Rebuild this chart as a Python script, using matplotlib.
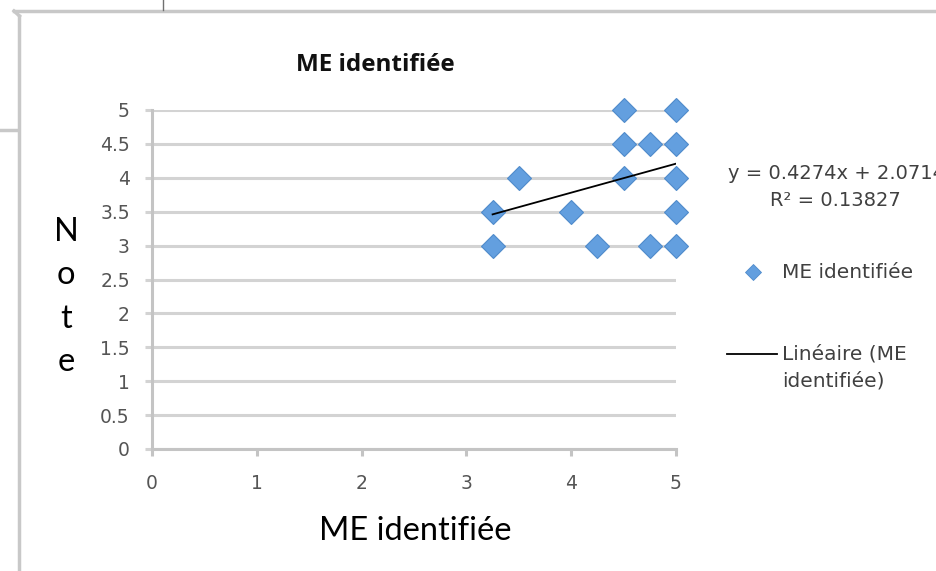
import matplotlib
matplotlib.use("Agg")
import matplotlib.pyplot as plt
from matplotlib.lines import Line2D
import numpy as np

# data
me_x = [4.5, 5, 4.5, 4.75, 5, 3.5, 4.5, 5, 3.25, 4, 5, 3.25, 4.25, 4.75, 5]
note_y = [5, 5, 4.5, 4.5, 4.5, 4, 4, 4, 3.5, 3.5, 3.5, 3, 3, 3, 3]
slope, intercept = 0.4274, 2.0714
r2 = 0.13827
y_ticks = [0, 0.5, 1, 1.5, 2, 2.5, 3, 3.5, 4, 4.5, 5]
y_tick_labels = ["0", "0.5", "1", "1.5", "2", "2.5", "3", "3.5", "4", "4.5", "5"]
x_ticks = [0, 1, 2, 3, 4, 5]

plt.rcParams['font.family'] = ['DejaVu Sans']

grid_col = "#d3d3d3"
axis_col = "#c4c4c4"
blue = "#639fdf"
txt_col = "#404040"
W, H = 937, 571


def fx(px):
    return px / W


def fy(py):
    return 1 - py / H


fig = plt.figure(figsize=(9.37, 5.71), dpi=100)
ax = fig.add_axes([fx(152), fy(449), 524 / W, 339 / H])

ax.set_xlim(0, 5)
ax.set_ylim(0, 5)

ax.set_yticks(y_ticks)
ax.set_yticklabels(y_tick_labels)
ax.set_xticks(x_ticks)
ax.yaxis.grid(True, color=grid_col, linewidth=2.2)
ax.set_axisbelow(True)

for s in ["top", "right"]:
    ax.spines[s].set_visible(False)
for s in ["left", "bottom"]:
    ax.spines[s].set_color(axis_col)
    ax.spines[s].set_linewidth(2.2)
ax.tick_params(axis="y", length=5, width=2.2, color=grid_col, pad=11,
               labelsize=13.5, labelcolor="#555555")
ax.tick_params(axis="x", length=5, width=2.2, color=axis_col, pad=13,
               labelsize=13.5, labelcolor="#555555")

pts, = ax.plot(me_x, note_y, linestyle="None", marker="D", markersize=12.5,
               color=blue, markeredgecolor="#4f8bcb", markeredgewidth=0.8,
               clip_on=False, zorder=3)

xfit = np.array([min(me_x), max(me_x)])
trend, = ax.plot(xfit, slope * xfit + intercept, color="black", linewidth=1.3,
                 zorder=4)

# title and axis labels
fig.text(fx(375), fy(65), "ME identifiée", fontsize=17.5, fontweight="bold",
         family="Open Sans", ha="center", va="center", color="#111111")
fig.text(fx(415), fy(531), "ME identifiée", fontsize=23.5, family="Lato",
         ha="center", va="center", color="black")
fig.text(fx(66), fy(297), "N\no\nt\ne", fontsize=23.5, family="Lato",
         ha="center", va="center", linespacing=1.56, color="black")

# trendline equation
fig.text(fx(728), fy(173), "y = {:.4f}x + {:.4f}".format(slope, intercept),
         fontsize=14, ha="left", va="center", color=txt_col)
fig.text(fx(835), fy(201), "R² = {}".format(r2), fontsize=14,
         ha="center", va="center", color=txt_col)

# legend
fig.add_artist(Line2D([fx(753)], [fy(272)], marker="D", markersize=8.5,
                      color=blue, markeredgecolor="#4f8bcb",
                      markeredgewidth=0.6, transform=fig.transFigure))
fig.text(fx(782), fy(272), "ME identifiée", fontsize=14.5, ha="left",
         va="center", color=txt_col)
fig.add_artist(Line2D([fx(727), fx(777)], [fy(354), fy(354)], color="black",
                      linewidth=1.3, transform=fig.transFigure))
fig.text(fx(782), fy(354), "Linéaire (ME", fontsize=14.5, ha="left",
         va="center", color=txt_col)
fig.text(fx(782), fy(381), "identifiée)", fontsize=14.5, ha="left",
         va="center", color=txt_col)

# surrounding frame of the screenshot
frame = "#c8c8c8"
fig.add_artist(Line2D([fx(14), 1.0], [fy(11), fy(11)],
                      transform=fig.transFigure, color=frame, linewidth=2.5))
fig.add_artist(Line2D([fx(19.5), fx(19.5)], [0, fy(16)],
                      transform=fig.transFigure, color=frame, linewidth=2.5))
fig.add_artist(Line2D([fx(14), fx(19.5)], [fy(11), fy(16)],
                      transform=fig.transFigure, color=frame, linewidth=2.5))
fig.add_artist(Line2D([0, fx(17)], [fy(130), fy(130)],
                      transform=fig.transFigure, color=frame, linewidth=2.5))
fig.add_artist(Line2D([fx(163), fx(163)], [1, fy(10)],
                      transform=fig.transFigure, color="#707070", linewidth=1))

fig.savefig("out.png", dpi=100)
